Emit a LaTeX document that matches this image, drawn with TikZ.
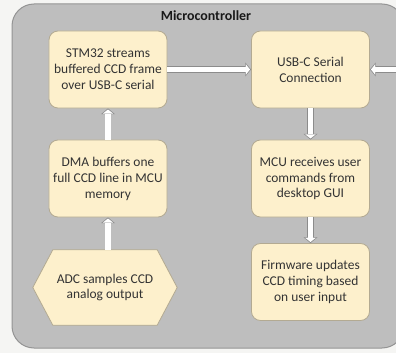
\documentclass[tikz,border=0pt]{standalone}
\usepackage{fontspec}
\setmainfont{Carlito}
\usetikzlibrary{arrows.meta}
\pgfdeclarelayer{bg}
\pgfsetlayers{bg,main}
\definecolor{pagebg}{HTML}{F5F5F3}
\definecolor{outerfill}{HTML}{BEBEBE}
\definecolor{outerdraw}{HTML}{949494}
\definecolor{boxfill}{HTML}{FDF0CC}
\definecolor{boxdraw}{HTML}{B3AA92}
\definecolor{txt}{HTML}{333333}
\definecolor{arrowgray}{HTML}{8C8C8C}
\tikzset{
  boxst/.style={draw=boxdraw, fill=boxfill, line width=0.8bp},
  box/.style={boxst, rounded corners=9bp, minimum width=118bp, minimum height=77bp,
    inner sep=2bp, align=center, text=txt, font=\fontsize{13.5}{16}\selectfont},
  hexnode/.style={minimum width=104bp, minimum height=75bp, inner sep=0pt,
    align=center, text=txt, font=\fontsize{13.5}{16}\selectfont},
  titlest/.style={font=\bfseries\fontsize{14}{16}\selectfont, text=black!90},
  arrout/.style={line width=6.5bp, draw=arrowgray,
    -{Triangle[width=14bp,length=5.8bp,line width=0pt]}},
  arrin/.style={line width=5.1bp, draw=white, shorten >=1.1bp,
    -{Triangle[width=10.4bp,length=4.1bp,line width=0pt]}}
}
\newcommand\fatarr[2]{\draw[arrout] (#1) -- (#2); \draw[arrin] (#1) -- (#2);}
\begin{document}
\begin{tikzpicture}[x=1bp,y=1bp]
\useasboundingbox (0,0) rectangle (396,353);
\node[titlest] (title) at (206,337.5) {Microcontroller};
\node[box] (stm) at (108,283.5) {STM32 streams\\buffered CCD frame\\over USB-C serial};
\node[box] (usb) at (310.5,283.5) {USB-C Serial\\Connection};
\node[box] (dma) at (108,174.5) {DMA buffers one\\full CCD line in MCU\\memory};
\node[box] (mcu) at (310.5,174.5) {MCU receives user\\commands from\\desktop GUI};
\node[box] (fw) at (310.5,71) {Firmware updates\\CCD timing based\\on user input};
\node[hexnode] (adc) at (105,65.5) {ADC samples CCD\\analog output};
\coordinate (ext) at (402,283.5);
\begin{pgfonlayer}{bg}
\fill[pagebg] (0,0) rectangle (396,353);
\draw[draw=outerdraw, fill=outerfill, line width=1bp, rounded corners=22bp] (12,5) rectangle (404,349);
\draw[boxst] (adc.north west) -- (adc.north east) -- ([xshift=20bp]adc.east) -- (adc.south east) -- (adc.south west) -- ([xshift=-20bp]adc.west) -- cycle;
\end{pgfonlayer}
\fatarr{stm}{usb}
\fatarr{ext}{usb}
\fatarr{adc.north -| dma.south}{dma.south}
\fatarr{dma}{stm}
\fatarr{usb}{mcu}
\fatarr{mcu}{fw}
\end{tikzpicture}
\end{document}
